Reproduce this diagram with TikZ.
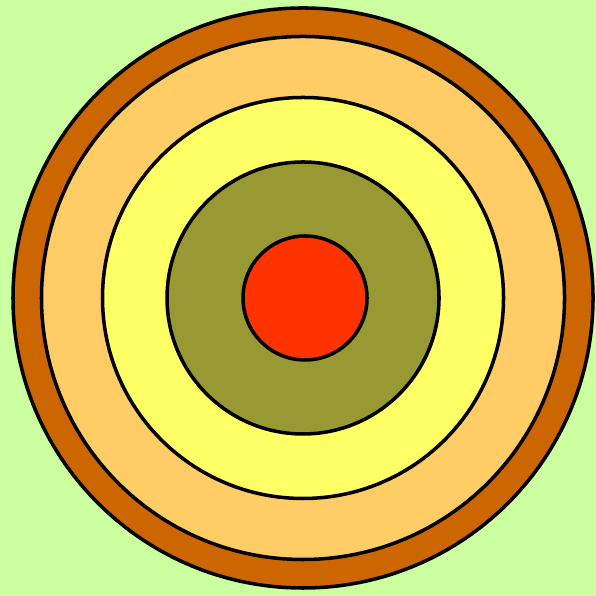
\documentclass[tikz,border=0pt]{standalone}
\usepackage{xcolor}
\usepackage{tikz}
\definecolor{meadow}{HTML}{CCFFA0}
\definecolor{crust}{HTML}{CC6600}
\definecolor{mantle}{HTML}{FFCC66}
\definecolor{outercore}{HTML}{FFFF66}
\definecolor{innercore}{HTML}{999933}
\definecolor{kernel}{HTML}{FF3300}

\begin{document}
\begin{tikzpicture}[ring/.style={draw=black,line width=1pt}]
      \fill[meadow] (0,0) rectangle (5.96,5.96);
      \useasboundingbox (0,0) rectangle (5.96,5.96);
      \coordinate (centre) at (3.03,2.98);
      \foreach \r/\c in {2.9/crust,2.615/mantle,2.005/outercore,1.36/innercore}
        \filldraw[ring,fill=\c] (centre) circle (\r);
      \filldraw[ring,fill=kernel] (3.05,2.98) circle (0.62);
    \end{tikzpicture}
\end{document}
